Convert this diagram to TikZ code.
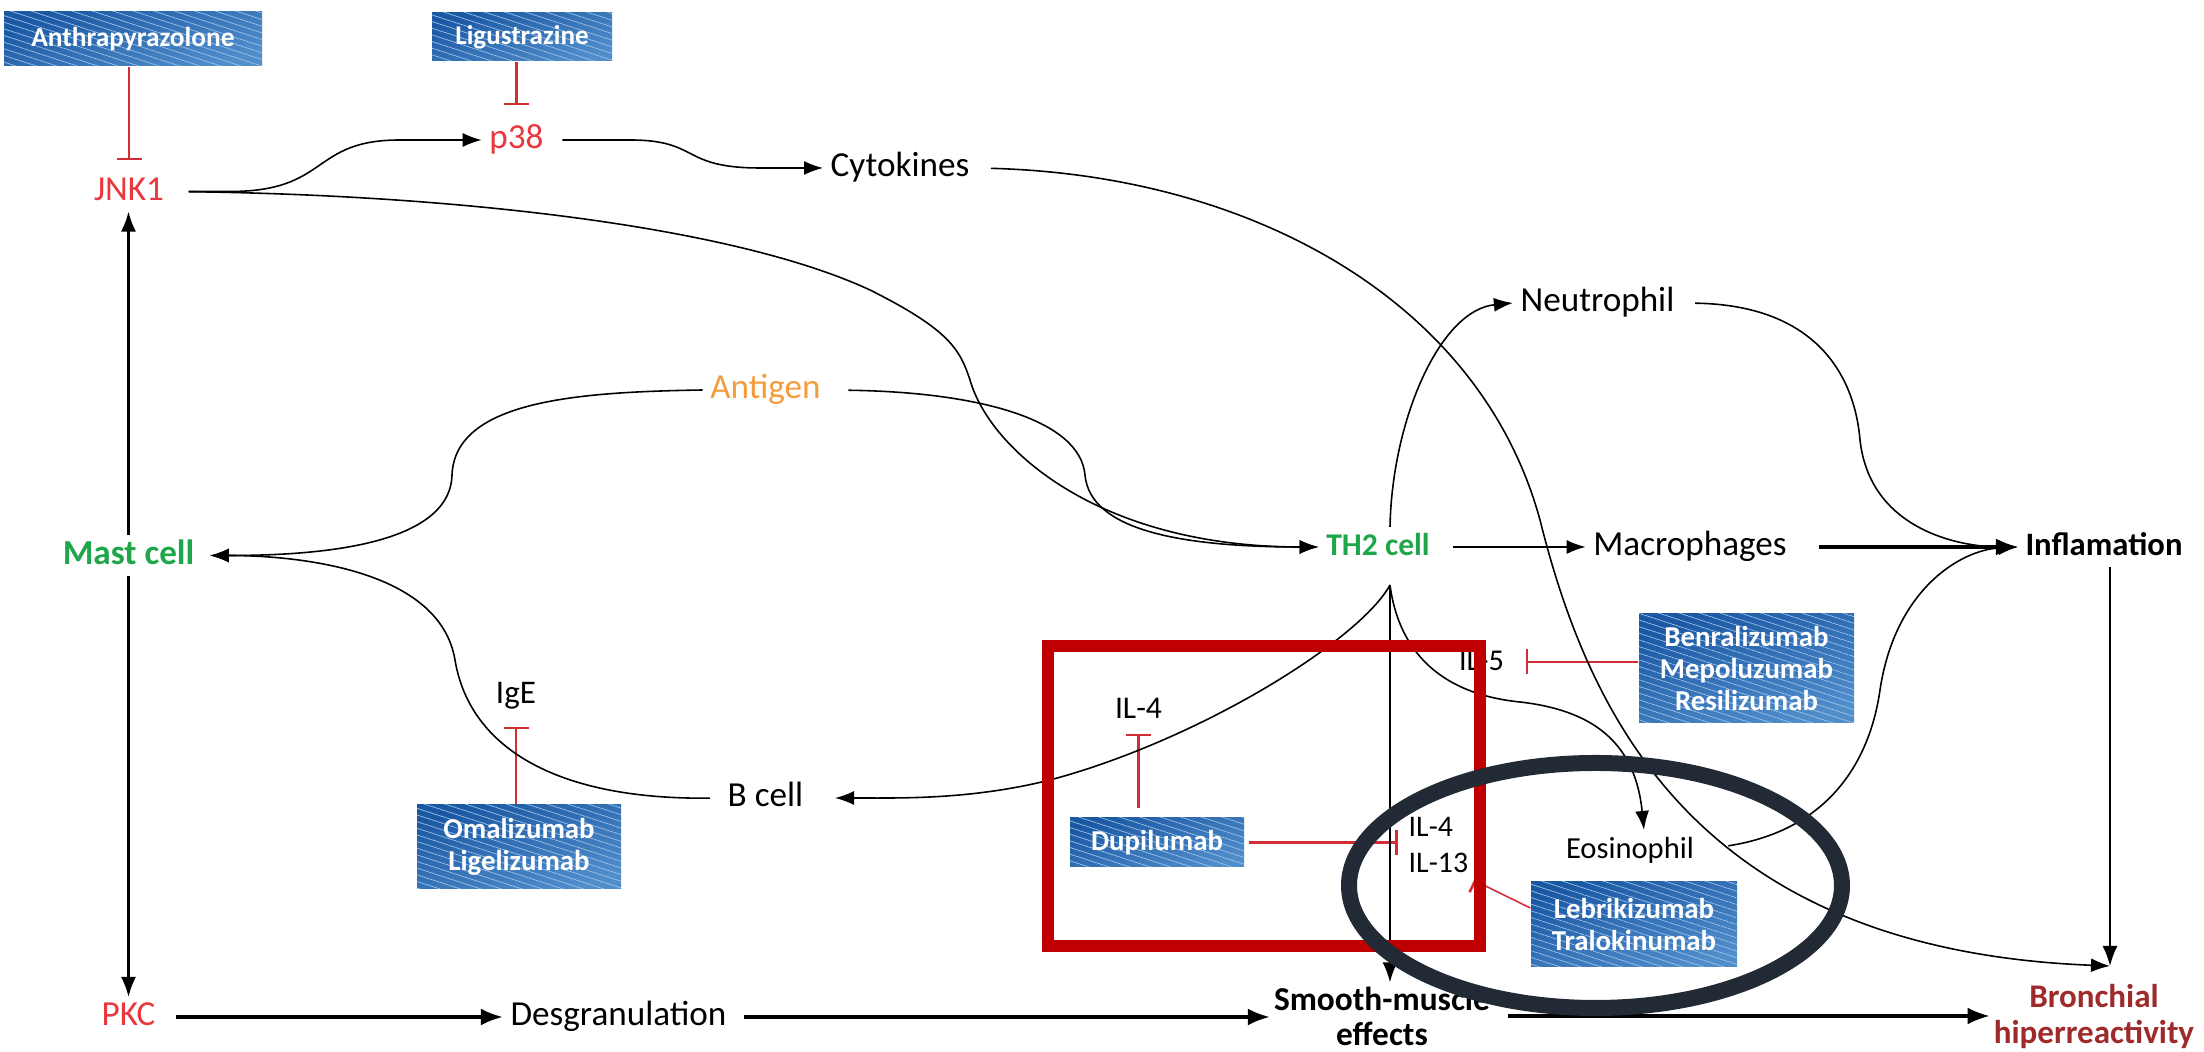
\documentclass[tikz,border=0pt]{standalone}
\usepackage{fontspec}
\setmainfont{Carlito}
\usetikzlibrary{arrows.meta,patterns.meta}
\definecolor{txtred}{HTML}{E8383D}
\definecolor{antorange}{HTML}{F39C3C}
\definecolor{cellgreen}{HTML}{1FA64A}
\definecolor{bronchred}{HTML}{9E2A2B}
\definecolor{inhred}{HTML}{D12D35}
\definecolor{boxred}{HTML}{C00000}
\definecolor{ellgray}{HTML}{222A35}
\definecolor{drugtop}{HTML}{1B58A4}
\definecolor{drugbot}{HTML}{4F8DCB}
\tikzset{
  lab/.style={font=\fontsize{10}{12}\selectfont, inner xsep=2pt, inner ysep=1pt, text height=7pt, text depth=2pt},
  drugbox/.style={text=white, font=\bfseries\fontsize{8.2}{9}\selectfont, align=center, inner sep=0pt,
    top color=drugtop, bottom color=drugbot, shading angle=20,
    postaction={pattern={Lines[angle=-18,distance=1.8pt,line width=0.2pt]}, pattern color=drugbot!55!white}},
  arr/.style={-{Latex[length=0.19cm,width=0.14cm]}, line width=0.45pt},
  marr/.style={-{Latex[length=0.2cm,width=0.15cm]}, line width=0.65pt},
  tarr/.style={-{Latex[length=0.22cm,width=0.17cm]}, line width=0.9pt},
  inh/.style={-{Bar[width=0.25cm,line width=0.75pt]}, draw=inhred, line width=0.65pt}
}
\begin{document}
\begin{tikzpicture}[x=1cm,y=-1cm]
\useasboundingbox (0,0) rectangle (22.04,10.52);

% labels
\node[lab, text=txtred] (jnk) at (1.29,1.915) {JNK1};
\node[lab, text=txtred] (p38) at (5.165,1.40) {p38};
\node[lab] (cyt) at (9.00,1.68) {Cytokines};
\node[lab, text=antorange] (antigen) at (7.655,3.90) {Antigen};
\node[lab, text=cellgreen, font=\bfseries\fontsize{10}{12}\selectfont] (mast) at (1.285,5.555) {Mast cell};
\node[lab, text=cellgreen, font=\bfseries\fontsize{9}{11}\selectfont] (th2) at (13.78,5.47) {TH2 cell};
\node[lab] (neut) at (15.975,3.03) {Neutrophil};
\node[lab] (macro) at (16.90,5.47) {Macrophages};
\node[lab, font=\bfseries\fontsize{9.3}{11}\selectfont] (infl) at (21.04,5.47) {Inflamation};
\node[lab, font=\fontsize{8.6}{10}\selectfont] (il5) at (14.815,6.62) {IL-5};
\node[lab, font=\fontsize{9.4}{11}\selectfont] (ige) at (5.16,6.95) {IgE};
\node[lab] (bcell) at (7.655,7.98) {B cell};
\node[lab, font=\fontsize{9}{11}\selectfont] (il4a) at (11.385,7.095) {IL-4};
\node[font=\fontsize{8.5}{10.2}\selectfont, align=left, anchor=west, inner sep=0pt] (il413) at (14.08,8.45) {IL-4\\IL-13};
\node[lab, font=\fontsize{8.7}{10}\selectfont] (eos) at (16.30,8.50) {Eosinophil};
\node[lab, text=txtred] (pkc) at (1.285,10.17) {PKC};
\node[lab] (desg) at (6.185,10.17) {Desgranulation};
\node[font=\bfseries\fontsize{9.5}{10}\selectfont, align=center, inner sep=1pt] (smooth) at (13.82,10.16) {Smooth-muscle\\effects};
\node[font=\bfseries\fontsize{9.4}{10}\selectfont, text=bronchred, align=center, inner sep=1pt] (bronch) at (20.94,10.165) {Bronchial\\hiperreactivity};

% drug boxes
\node[drugbox, minimum width=2.58cm, minimum height=0.54cm, font=\bfseries\fontsize{7.8}{9}\selectfont] (anth) at (1.33,0.39) {Anthrapyrazolone};
\node[drugbox, minimum width=1.80cm, minimum height=0.48cm, font=\bfseries\fontsize{7.7}{9}\selectfont] (lig) at (5.22,0.37) {Ligustrazine};
\node[drugbox, minimum width=2.04cm, minimum height=0.84cm] (oma) at (5.19,8.47) {Omalizumab\\Ligelizumab};
\node[drugbox, minimum width=1.74cm, minimum height=0.49cm] (dup) at (11.57,8.425) {Dupilumab};
\node[drugbox, minimum width=2.15cm, minimum height=1.09cm] (benra) at (17.465,6.685) {Benralizumab\\Mepoluzumab\\Resilizumab};
\node[drugbox, minimum width=2.06cm, minimum height=0.85cm] (lebri) at (16.34,9.245) {Lebrikizumab\\Tralokinumab};

\coordinate (bh) at (21.10,9.66);

% inhibitions
\draw[inh, shorten >=0.11cm] (jnk.north |- anth.south) -- (jnk.north);
\draw[inh, shorten >=0.146cm] (p38.north |- lig.south) -- (p38.north);
\draw[inh, shorten >=0.116cm] (ige.south |- oma.north) -- (ige.south);
\draw[inh, shorten <=0.09cm, shorten >=0.04cm] (il4a.south |- dup.north) -- (il4a.south);
\draw[inh, shorten <=0.04cm, shorten >=0.1cm] (dup.east) -- (dup.east -| il413.west);
\draw[inh, line width=0.45pt] ([yshift=0.165cm]lebri.west) -- ([xshift=0.05cm,yshift=-0.07cm]il413.south east);
\draw[inh, shorten >=0.14cm] (benra.west |- il5.east) -- (il5.east);

% arrows
\draw[arr, shorten <=0.17cm] (jnk.east) -- (2.3,1.915) .. controls (3.3,1.915) and (3.1,1.40) .. (4.0,1.40) -- (p38.west);
\draw[arr, shorten <=0.11cm] (p38.east) -- (6.3,1.40) .. controls (7.0,1.40) and (6.8,1.68) .. (7.6,1.68) -- (cyt.west);
\draw[arr, shorten <=0.17cm] (jnk.east) .. controls (4.5,1.95) and (7.3,2.25) .. (8.7,2.9) .. controls (9.5,3.3) and (9.6,3.5) .. (9.7,3.8) .. controls (9.9,4.5) and (11.0,5.47) .. (th2.west);
\draw[arr, shorten <=0.2cm] (antigen.east) .. controls (9.8,3.92) and (10.8,4.2) .. (10.85,4.75) .. controls (10.9,5.3) and (11.8,5.47) .. (th2.west);
\draw[arr, shorten >=0.08cm] (antigen.west) .. controls (5.8,3.92) and (4.55,4.0) .. (4.52,4.75) .. controls (4.5,5.5) and (3.0,5.555) .. (mast.east);
\draw[arr, shorten <=0.1cm, shorten >=0.08cm] (bcell.west) .. controls (5.6,8.0) and (4.7,7.5) .. (4.55,6.6) .. controls (4.4,5.7) and (3.0,5.555) .. (mast.east);
\draw[marr] (mast.north) -- (mast.north |- jnk.south);
\draw[marr] (mast.south) -- (mast.south |- pkc.north);
\draw[tarr, shorten <=0.13cm] (pkc.east) -- (desg.west);
\draw[tarr, shorten <=0.1cm] (desg.east) -- (smooth.west |- desg.east);
\draw[tarr, shorten <=0.14cm] (smooth.east) -- (bronch.west |- smooth.east);
\draw[arr, shorten <=0.16cm] (th2.east) -- (macro.west);
\draw[tarr, shorten <=0.25cm] (macro.east) -- (infl.west);
\draw[marr, line width=0.5pt] (bh |- infl.south) -- (bh);
\draw[arr, shorten <=0.14cm] (cyt.east) .. controls (12.5,1.75) and (14.8,3.0) .. (15.4,5.2) .. controls (15.9,7.2) and (17.0,9.5) .. (bh);
\draw[arr, shorten <=0.13cm] (neut.east) .. controls (18.2,3.05) and (18.55,3.8) .. (18.6,4.4) .. controls (18.7,5.3) and (19.6,5.47) .. (infl.west);
\draw[arr, shorten <=0.27cm] (eos.east) .. controls (18.3,8.3) and (18.7,7.6) .. (18.8,6.9) .. controls (18.95,5.9) and (19.6,5.5) .. (infl.west);
\draw[arr] ([xshift=0.12cm]th2.north) .. controls (13.92,4.2) and (14.4,3.1) .. (neut.west);
\draw[arr, shorten >=0.24cm] ([xshift=0.12cm,yshift=-0.18cm]th2.south) .. controls (13.6,6.4) and (12.0,7.4) .. (10.5,7.8) .. controls (9.7,8.0) and (9.0,7.98) .. (bcell.east);
\draw[marr, line width=0.55pt] ([xshift=0.12cm,yshift=-0.18cm]th2.south) -- ([xshift=0.08cm]smooth.north);
\draw[arr] ([xshift=0.12cm,yshift=-0.18cm]th2.south) .. controls (14.0,6.6) and (14.5,6.95) .. (15.2,7.02) .. controls (15.9,7.1) and (16.35,7.4) .. ([xshift=0.14cm]eos.north);

% highlight shapes
\draw[draw=boxred, line width=0.12cm] (10.48,6.46) rectangle (14.80,9.46);
\draw[draw=ellgray, line width=0.16cm] (15.955,8.855) ellipse [x radius=2.465cm, y radius=1.225cm];
\end{tikzpicture}
\end{document}
